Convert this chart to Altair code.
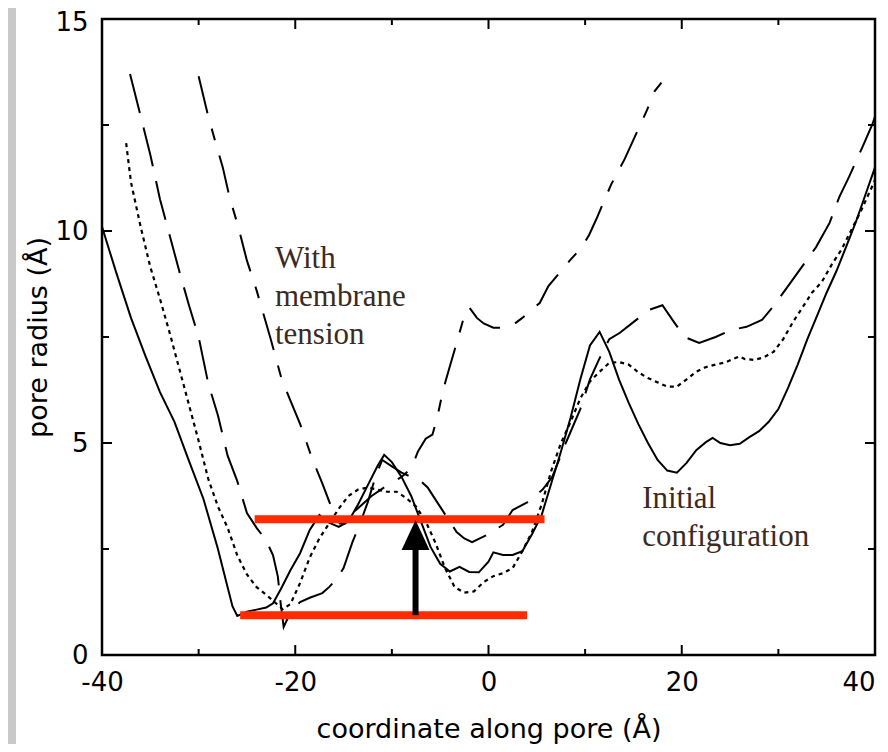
import altair as alt
import pandas as pd

# ---------------- data ----------------
SOLID_X = [-40, -38.5, -37, -35.5, -34, -32.5, -31, -29.5, -28, -27,
           -26.5, -26, -25, -24, -23, -22.3, -21.5, -20.5, -19.5, -18.5,
           -17.5, -16.5, -15.5, -14.5, -13.5, -12.5, -11.5, -10.8, -10, -9,
           -8, -7, -6, -5, -4, -3, -2, -1, 0, 0.5,
           1.5, 2.5, 3.5, 4.5, 5.5, 6.5, 7.5, 8.5, 9.5, 10.5,
           11.5, 12.5, 13.5, 14.5, 15.5, 16.5, 17.5, 18.5, 19.5, 20.5,
           21.5, 22.5, 23.2, 24, 25, 26, 27, 28, 29, 30,
           31, 32, 33, 34, 35, 36, 37, 38, 39, 40]
SOLID_Y = [10.1, 9.0, 7.95, 7.05, 6.2, 5.5, 4.58, 3.68, 2.5, 1.6,
           1.15, 0.92, 1.02, 1.07, 1.12, 1.22, 1.55, 2.0, 2.4, 2.95,
           3.3, 3.12, 3.02, 3.15, 3.55, 4.0, 4.45, 4.72, 4.55, 4.2,
           3.75, 3.15, 2.55, 2.15, 1.97, 2.08, 1.96, 1.95, 2.2, 2.42,
           2.36, 2.36, 2.45, 2.85, 3.3, 4.05, 4.8, 5.6, 6.5, 7.3,
           7.62, 7.15, 6.5, 5.95, 5.45, 5.0, 4.6, 4.35, 4.3, 4.53,
           4.83, 5.02, 5.12, 5.0, 4.95, 4.98, 5.14, 5.28, 5.5, 5.8,
           6.3, 6.85, 7.45, 8.0, 8.55, 9.05, 9.62, 10.2, 10.85, 11.5]

DOT_X = [-37.5, -37, -36, -35, -34, -33, -32, -31, -30, -29,
         -28, -27, -26, -25, -24, -23, -22, -21.3, -20.5, -19.5,
         -18.5, -17.5, -16.5, -15.5, -14.5, -13.5, -12.5, -11.5, -10.5, -9.5,
         -8.5, -7.5, -6.5, -5.5, -4.5, -3.5, -2.5, -1.5, -0.5, 0.5,
         1.5, 2.5, 3.5, 4.5, 5.5, 6.5, 7.5, 8.5, 9.5, 10.5,
         11.5, 12.5, 13.5, 14.5, 15.5, 16.5, 17.5, 18.5, 19.5, 20.5,
         21.5, 22.5, 23.5, 24.5, 25.5, 26, 26.5, 27.5, 28.5, 29.5,
         30.5, 31.5, 32.5, 33.5, 34.5, 35.5, 36.5, 37.5, 38.5, 39.5, 40]
DOT_Y = [12.07, 11.15, 10.1, 9.15, 8.4, 7.6, 6.75, 5.9, 5.05, 4.15,
         3.5, 3.0, 2.35, 1.9, 1.6, 1.42, 1.22, 1.08, 1.2, 1.7,
         2.3, 2.75, 3.1, 3.45, 3.75, 3.9, 3.95, 3.9, 3.85, 3.85,
         3.7, 3.5, 3.15, 2.65, 2.05, 1.6, 1.47, 1.5, 1.72, 1.86,
         1.93, 2.05, 2.45, 2.9, 3.55, 4.35, 5.0, 5.5, 6.05, 6.45,
         6.68, 6.89, 6.91, 6.85, 6.67, 6.53, 6.43, 6.33, 6.33, 6.5,
         6.68, 6.79, 6.85, 6.9, 7.0, 7.04, 6.98, 6.96, 7.02, 7.15,
         7.45, 7.85, 8.2, 8.55, 8.8, 9.2, 9.55, 10.0, 10.45, 10.95, 11.2]

DASH_X = [-37.1, -36.1, -35, -34, -33, -32, -31, -30, -29, -28,
          -27, -26, -25, -24, -23, -22.3, -21.8, -21.5, -21.2, -20.5,
          -19.5, -18.5, -17.2, -16.5, -15.7, -15, -14.1, -13.3, -12.5, -11.7,
          -11, -10, -9, -8, -7, -6.3, -5.3, -4.3, -3.3, -2.5,
          -1.7, 0, 1.5, 2.5, 4, 5.6, 6.6, 8, 9.5, 10.5,
          11.5, 12.5, 13.6, 15, 16.6, 18, 19.2, 20.3, 21.8, 23.5,
          25.2, 26.7, 28.3, 29.4, 31, 32.9, 33.9, 35.3, 36.3, 37.3,
          38.7, 39.7, 40]
DASH_Y = [13.7, 12.8, 11.8, 10.75, 9.9, 9.05, 8.25, 7.5, 6.4, 5.65,
          4.7, 4.1, 3.35, 3.0, 2.7, 2.35, 1.85, 1.2, 0.66, 1.0,
          1.25, 1.35, 1.46, 1.6, 1.8, 2.05, 2.65, 3.1, 3.6, 4.2,
          4.6, 4.45, 4.3, 4.2, 4.1, 3.95, 3.6, 3.25, 2.9, 2.75,
          2.66, 2.85, 3.07, 3.42, 3.6, 3.9, 4.2, 5.0, 5.8, 6.5,
          7.0, 7.45, 7.6, 7.85, 8.14, 8.25, 7.85, 7.5, 7.36, 7.5,
          7.67, 7.74, 7.9, 8.2, 8.7, 9.3, 9.62, 10.19, 10.8, 11.27,
          11.98, 12.5, 12.7]

DASHDOT_X = [-30, -29, -28.2, -27.5, -26.8, -25.9, -25, -24, -22.6, -21.4,
             -20.5, -19.5, -18.2, -17.2, -16.2, -15.4, -14.6, -13.8, -12.1, -10.5,
             -9, -8, -7.3, -6.5, -5.8, -5.3, -4.7, -4.2, -3.5, -3.0,
             -2.5, -2.0, -1.2, -0.5, 0.5, 1.5, 2.5, 3.5, 4.5, 5.3,
             6.2, 7.3, 8.4, 9.6, 10.4, 11.2, 12.7, 14.1, 14.9, 16.4,
             17.2, 17.9]
DASHDOT_Y = [13.65, 12.7, 12.05, 11.5, 10.8, 10.1, 9.3, 8.6, 7.5, 6.5,
             6.0, 5.45, 4.6, 4.05, 3.45, 3.1, 3.1, 3.4, 3.75, 4.0,
             4.2, 4.4, 4.8, 5.1, 5.2, 5.6, 6.25, 6.65, 7.2, 7.6,
             8.0, 8.2, 7.95, 7.82, 7.72, 7.72, 7.78, 7.95, 8.15, 8.3,
             8.7, 9.0, 9.3, 9.6, 9.9, 10.3, 11.1, 11.7, 12.1, 12.85,
             13.3, 13.5]

# red horizontal bars
RED_X1 = [-24.2, -25.7]
RED_X2 = [5.8, 4.0]
RED_Y = [3.2, 0.94]

# black arrow
ARROW_X = [-7.55]
ARROW_Y1 = [0.94]
ARROW_Y2 = [2.6]
ARROW_HEAD_Y = [2.83]

# annotations
NOTE_X = [-22.1, 15.9]
NOTE_Y = [9.13, 3.47]
NOTE_TEXT = [["With", "membrane", "tension"], ["Initial", "configuration"]]

# axis ticks
X_TICKS = [-40, -30, -20, -10, 0, 10, 20, 30, 40]
X_LABELS = [-40, -20, 0, 20, 40]
Y_TICKS = [0, 2.5, 5, 7.5, 10, 12.5, 15]
Y_LABELS = [0, 5, 10, 15]

# ---------------- chart ----------------
W, H = 773, 636
FONT = "DejaVu Sans"

xscale = alt.Scale(domain=[-40, 40], nice=False, zero=False)
yscale = alt.Scale(domain=[0, 15], nice=False, zero=False)

xaxis = alt.Axis(values=X_LABELS, labelExpr="'' + datum.value", ticks=False, domain=False,
                 grid=False, labelFont=FONT, labelFontSize=26, labelColor="black",
                 labelPadding=14, labelFlush=False,
                 labelAlign={"condition": {"test": "datum.value >= 40", "value": "right"},
                             "value": "center"},
                 title="coordinate along pore (Å)", titleFont=FONT, titleFontSize=27,
                 titleFontWeight="normal", titleColor="black",
                 titleBaseline="alphabetic", titleY=82)
yaxis = alt.Axis(values=Y_LABELS, labelExpr="'' + datum.value", ticks=False, domain=False,
                 grid=False, labelFont=FONT, labelFontSize=26, labelColor="black",
                 labelPadding=14, labelFlush=False,
                 labelOffset={"condition": {"test": "datum.value >= 15", "value": 3},
                              "value": 0},
                 title="pore radius (Å)", titleFont=FONT, titleFontSize=27,
                 titleFontWeight="normal", titleColor="black",
                 titleBaseline="alphabetic", titleX=-56, titleY=H / 2)


def X(field="x"):
    return alt.X(f"{field}:Q", scale=xscale, axis=xaxis)


def Y(field="y"):
    return alt.Y(f"{field}:Q", scale=yscale, axis=yaxis)


def line_layer(xs, ys, dash, width=2):
    df = pd.DataFrame({"x": xs, "y": ys})
    kw = dict(color="black", strokeWidth=width, strokeCap="butt")
    if dash:
        kw["strokeDash"] = dash
    return alt.Chart(df).mark_line(**kw).encode(x=X(), y=Y(), order=alt.Order("x:Q"))


strip = alt.Chart(pd.DataFrame({"a": [0]})).mark_rect(color="#c9c9c9").encode(
    x=alt.value(-94), x2=alt.value(-86), y=alt.value(-11), y2=alt.value(725))

tick_layers = []
for vals, length in [([v for v in X_TICKS if v in X_LABELS], 10), ([v for v in X_TICKS if v not in X_LABELS], 6)]:
    d = pd.DataFrame({"x": vals})
    tick_layers.append(alt.Chart(d).mark_rule(color="black", strokeWidth=2).encode(
        x=X(), y=alt.value(H), y2=alt.value(H - length)))
    tick_layers.append(alt.Chart(d).mark_rule(color="black", strokeWidth=2).encode(
        x=X(), y=alt.value(0), y2=alt.value(length)))
for vals, length in [([v for v in Y_TICKS if v in Y_LABELS], 10), ([v for v in Y_TICKS if v not in Y_LABELS], 7)]:
    d = pd.DataFrame({"y": vals})
    tick_layers.append(alt.Chart(d).mark_rule(color="black", strokeWidth=2).encode(
        y=Y(), x=alt.value(0), x2=alt.value(length)))
    tick_layers.append(alt.Chart(d).mark_rule(color="black", strokeWidth=2).encode(
        y=Y(), x=alt.value(W), x2=alt.value(W - length)))

solid = line_layer(SOLID_X, SOLID_Y, None)
dotted = line_layer(DOT_X, DOT_Y, [4, 4], width=2.2)
dashed = line_layer(DASH_X, DASH_Y, [40, 15])
dashdot = line_layer(DASHDOT_X, DASHDOT_Y, [38, 16, 12, 16])

red = alt.Chart(pd.DataFrame({"x": RED_X1, "x2": RED_X2, "y": RED_Y})).mark_rule(
    color="#ff2a00", strokeWidth=8, strokeCap="butt").encode(x=X(), x2="x2:Q", y=Y())

shaft = alt.Chart(pd.DataFrame({"x": ARROW_X, "y": ARROW_Y1, "y2": ARROW_Y2})).mark_rule(
    color="black", strokeWidth=6, strokeCap="butt").encode(x=X(), y=Y(), y2="y2:Q")

head = alt.Chart(pd.DataFrame({"x": ARROW_X, "y": ARROW_HEAD_Y})).mark_point(
    shape="M0,-1L0.93,1L-0.93,1Z", size=900, filled=True, color="black",
    opacity=1, strokeWidth=0).encode(x=X(), y=Y())

notes = alt.Chart(pd.DataFrame({"x": NOTE_X, "y": NOTE_Y, "t": NOTE_TEXT})).mark_text(
    align="left", baseline="alphabetic", font="Liberation Serif", fontSize=31,
    lineHeight=38, color="#3d2a1e").encode(x=X(), y=Y(), text="t")

chart = alt.layer(
    strip, *tick_layers, dotted, dashed, dashdot, solid, red, shaft, head, notes
).properties(
    width=W, height=H,
    padding={"left": 94, "top": 11, "right": 5, "bottom": 89},
    autosize=alt.AutoSizeParams(type="none"),
    background="white",
).configure_view(stroke="black", strokeWidth=2.5, fill="white")

chart.save("out.html", embed_options={"renderer": "svg", "actions": False})
